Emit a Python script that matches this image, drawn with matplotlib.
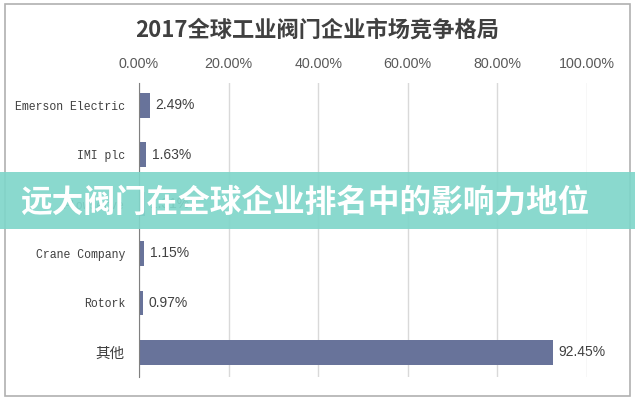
import matplotlib
matplotlib.use('Agg')
import matplotlib.pyplot as plt
from matplotlib.patches import Rectangle

# datos
empresas = ['Emerson Electric', 'IMI plc', 'Flowserve', 'Crane Company', 'Rotork', '其他']
cuota = [2.49, 1.63, 1.31, 1.15, 0.97, 92.45]
ticks = [0, 20, 40, 60, 80, 100]
titulo = '2017全球工业阀门企业市场竞争格局'
banner = '远大阀门在全球企业排名中的影响力地位'

plt.rcParams['font.family'] = ['Liberation Sans', 'Noto Sans CJK SC', 'DejaVu Sans']

fig = plt.figure(figsize=(6.35, 4.0), dpi=100)
fig.patch.set_facecolor('white')

# marco exterior
fig.patches.append(Rectangle((5/635, 4/400), 625/635, 392/400, transform=fig.transFigure,
                             fill=False, edgecolor='#b0b0b0', linewidth=1.2, zorder=0))

ax = fig.add_axes([139/635, 1 - 377/400, 448/635, 294/400])
y = list(range(len(empresas)))
ax.barh(y, cuota, height=0.5, color='#68739a', zorder=3)
ax.set_xlim(0, 100)
ax.set_ylim(5.5, -0.45)

ax.xaxis.tick_top()
ax.set_xticks(ticks)
ax.set_xticklabels(['{:.2f}%'.format(t) for t in ticks], fontsize=10.3, color='#595959')
ax.tick_params(axis='x', length=0, pad=9)
ax.tick_params(axis='y', length=0, pad=10)
ax.set_yticks(y)
ax.set_yticklabels(empresas)
for lbl in ax.get_yticklabels():
    if lbl.get_text() == '其他':
        lbl.set_fontfamily(['Noto Sans CJK SC'])
        lbl.set_fontsize(10.5)
    else:
        lbl.set_fontfamily(['Liberation Mono'])
        lbl.set_fontsize(8.3)
    lbl.set_color('#404040')

ax.grid(axis='x', color='#d9d9d9', linewidth=1, zorder=0)
for s in ['top', 'right', 'bottom']:
    ax.spines[s].set_visible(False)
ax.spines['left'].set_color('#808080')
ax.spines['left'].set_zorder(4)

for i, v in enumerate(cuota):
    ax.text(v + 1.2, i, '{:.2f}%'.format(v), va='center', ha='left', fontsize=10, color='#404040')

fig.text(0.5, 1 - 30/400, titulo, ha='center', va='center', fontsize=16,
         fontweight='bold', color='#404040', family=['Noto Sans CJK SC'])

# franja
fig.patches.append(Rectangle((0, 1 - 229/400), 1, 57/400, transform=fig.transFigure,
                             facecolor='#80d6ca', alpha=0.92, edgecolor='none', zorder=10))
fig.text(305/635, 1 - 203/400, banner, ha='center', va='center', fontsize=22.8,
         fontweight='bold', color='white', family=['Noto Sans CJK SC'], zorder=11)

fig.savefig('out.png', dpi=100)
